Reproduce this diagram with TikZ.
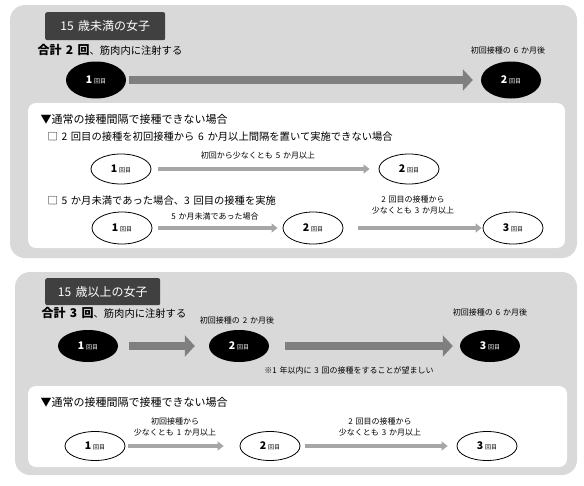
\documentclass[tikz,border=0pt]{standalone}
\usepackage{fontspec}
\setmainfont[WordSpace=1.6]{Noto Sans CJK JP}
\usetikzlibrary{shapes.geometric,arrows.meta}

\definecolor{panelgray}{HTML}{D9D9D9}
\definecolor{tabdark}{HTML}{404040}
\definecolor{arrowdark}{HTML}{7F7F7F}
\definecolor{arrowlight}{HTML}{A6A6A6}

\newcommand{\dose}[1]{{\fontsize{10.5}{10}\selectfont\bfseries #1}\,{\fontsize{6}{6}\selectfont 回目}}

\tikzset{
    shot/.style={ellipse, fill=black, text=white, minimum width=60pt, minimum height=32pt, inner sep=0pt},
    alt/.style={ellipse, draw=black, line width=0.8pt, fill=white, minimum width=60pt, minimum height=30pt, inner sep=0pt},
    bigarrow/.style={draw=arrowdark, line width=8pt, -{Triangle[width=21pt,length=10pt]}},
    thinarrow/.style={draw=arrowlight, line width=4.5pt, -{Triangle[width=9pt,length=6pt]}},
    tab/.style={fill=tabdark, text=white, rounded corners=2pt, minimum width=120pt, minimum height=28pt, anchor=north west, font=\fontsize{12}{14}\selectfont},
    head/.style={anchor=west, font=\fontsize{10.3}{12}\selectfont},
    note/.style={align=center, font=\fontsize{8}{10.5}\selectfont},
}

\begin{document}
\begin{tikzpicture}[x=1pt,y=-1pt]
    \useasboundingbox (0,0) rectangle (584,485);

    % under 15
    \fill[panelgray, rounded corners=15pt] (10,5) rectangle (577,258);
    \fill[white, rounded corners=8pt] (28,103) rectangle (565,248);
    \node[tab] (tabA) at (45,12) {15 歳未満の女子};
    \node[head] (sumA) at (34,50) {{\fontsize{12}{14}\selectfont\bfseries 合計 2 回}、筋肉内に注射する};

    \node[shot, minimum height=37pt] (a1) at (96,80) {\dose{1}};
    \node[shot, minimum height=37pt] (a2) at (511,80) {\dose{2}};
    \node[note] (la2) at (508,50) {初回接種の 6 か月後};
    \draw[bigarrow, shorten <=3pt, shorten >=8pt] (a1.east) -- (a2.west);

    \node[head, font=\fontsize{11}{13}\selectfont] (altA) at (37,119) {▼通常の接種間隔で接種できない場合};
    \node[head] (caseB) at (44,137) {□ 2 回目の接種を初回接種から 6 か月以上間隔を置いて実施できない場合};
    \node[alt] (b1) at (121,169) {\dose{1}};
    \node[alt] (b2) at (409,169) {\dose{2}};
    \node[note] (lb) at (258,155) {初回から少なくとも 5 か月以上};
    \draw[thinarrow, shorten <=7pt, shorten >=9pt] (b1.east) -- (b2.west);

    \node[head] (caseC) at (44,201) {□ 5 か月未満であった場合、3 回目の接種を実施};
    \node[alt, minimum height=32pt] (c1) at (122,228) {\dose{1}};
    \node[alt, minimum height=32pt] (c2) at (313,228) {\dose{2}};
    \node[alt, minimum height=32pt] (c3) at (513,228) {\dose{3}};
    \node[note] (lc1) at (215,216) {5 か月未満であった場合};
    \node[note] (lc2) at (413,205) {2 回目の接種から\\少なくとも 3 か月以上};
    \draw[thinarrow, shorten <=6pt, shorten >=5pt] (c1.east) -- (c2.west);
    \draw[thinarrow, shorten <=15pt, shorten >=1pt] (c2.east) -- (c3.west);

    % 15 and over
    \fill[panelgray, rounded corners=15pt] (15,272) rectangle (577,475);
    \fill[white, rounded corners=8pt] (28,386) rectangle (567,467);
    \node[tab, minimum width=115pt, minimum height=27pt] (tabB) at (45,278) {15 歳以上の女子};
    \node[head] (sumB) at (38,313) {{\fontsize{12}{14}\selectfont\bfseries 合計 3 回}、筋肉内に注射する};

    \node[shot] (d1) at (88,346) {\dose{1}};
    \node[shot] (d2) at (239,346) {\dose{2}};
    \node[shot] (d3) at (490,346) {\dose{3}};
    \node[note] (ld2) at (237,320) {初回接種の 2 か月後};
    \node[note] (ld3) at (490,312) {初回接種の 6 か月後};
    \node[note] (ld) at (349,370) {※1 年以内に 3 回の接種をすることが望ましい};
    \draw[bigarrow, shorten <=11pt, shorten >=14pt] (d1.east) -- (d2.west);
    \draw[bigarrow, shorten <=16pt, shorten >=7pt] (d2.east) -- (d3.west);

    \node[head, font=\fontsize{11}{13}\selectfont] (altB) at (37,402) {▼通常の接種間隔で接種できない場合};
    \node[alt, minimum height=29pt] (e1) at (95,446) {\dose{1}};
    \node[alt, minimum height=29pt] (e2) at (270,446) {\dose{2}};
    \node[alt, minimum height=29pt] (e3) at (487,446) {\dose{3}};
    \node[note] (le1) at (175,427) {初回接種から\\少なくとも 1 か月以上};
    \node[note] (le2) at (380,427) {2 回目の接種から\\少なくとも 3 か月以上};
    \draw[thinarrow, shorten <=3pt, shorten >=16pt] (e1.east) -- (e2.west);
    \draw[thinarrow, shorten <=5pt, shorten >=9pt] (e2.east) -- (e3.west);
\end{tikzpicture}
\end{document}
